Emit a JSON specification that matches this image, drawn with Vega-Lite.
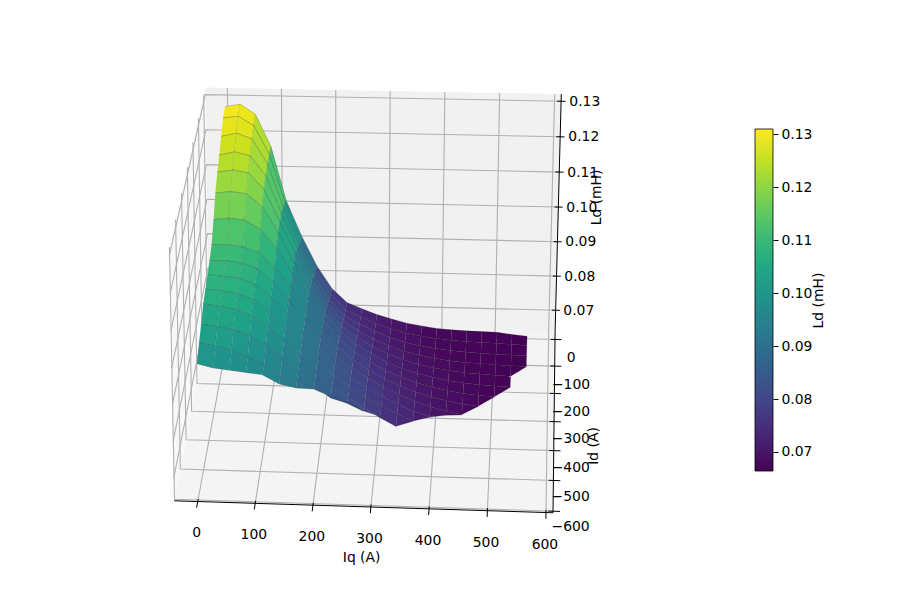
{"$schema":"https://vega.github.io/schema/vega-lite/v6.json","width":900,"height":600,"padding":0,"autosize":{"type":"none"},"background":"white","config":{"view":{"stroke":null},"text":{"font":"DejaVu Sans"},"axis":{"labelFont":"DejaVu Sans","titleFont":"DejaVu Sans"}},
"data":{"values":[
{"t":"p","p":"back","s":0,"Iq":-41,"Id":30,"Ld":0.0637},{"t":"p","p":"back","s":1,"Iq":612,"Id":30,"Ld":0.0637},{"t":"p","p":"back","s":2,"Iq":612,"Id":30,"Ld":0.132},{"t":"p","p":"back","s":3,"Iq":-41,"Id":30,"Ld":0.132},
{"t":"p","p":"left","s":0,"Iq":-41,"Id":30,"Ld":0.0637},{"t":"p","p":"left","s":1,"Iq":-41,"Id":-605,"Ld":0.0637},{"t":"p","p":"left","s":2,"Iq":-41,"Id":-605,"Ld":0.132},{"t":"p","p":"left","s":3,"Iq":-41,"Id":30,"Ld":0.132},
{"t":"p","p":"floor","s":0,"Iq":-41,"Id":30,"Ld":0.0637},{"t":"p","p":"floor","s":1,"Iq":612,"Id":30,"Ld":0.0637},{"t":"p","p":"floor","s":2,"Iq":612,"Id":-605,"Ld":0.0637},{"t":"p","p":"floor","s":3,"Iq":-41,"Id":-605,"Ld":0.0637},
{"t":"g","p":"q0","s":0,"Iq":0,"Id":-605,"Ld":0.0637},{"t":"g","p":"q0","s":1,"Iq":0,"Id":30,"Ld":0.0637},{"t":"g","p":"q0","s":2,"Iq":0,"Id":30,"Ld":0.132},
{"t":"g","p":"q1","s":0,"Iq":100,"Id":-605,"Ld":0.0637},{"t":"g","p":"q1","s":1,"Iq":100,"Id":30,"Ld":0.0637},{"t":"g","p":"q1","s":2,"Iq":100,"Id":30,"Ld":0.132},
{"t":"g","p":"q2","s":0,"Iq":200,"Id":-605,"Ld":0.0637},{"t":"g","p":"q2","s":1,"Iq":200,"Id":30,"Ld":0.0637},{"t":"g","p":"q2","s":2,"Iq":200,"Id":30,"Ld":0.132},
{"t":"g","p":"q3","s":0,"Iq":300,"Id":-605,"Ld":0.0637},{"t":"g","p":"q3","s":1,"Iq":300,"Id":30,"Ld":0.0637},{"t":"g","p":"q3","s":2,"Iq":300,"Id":30,"Ld":0.132},
{"t":"g","p":"q4","s":0,"Iq":400,"Id":-605,"Ld":0.0637},{"t":"g","p":"q4","s":1,"Iq":400,"Id":30,"Ld":0.0637},{"t":"g","p":"q4","s":2,"Iq":400,"Id":30,"Ld":0.132},
{"t":"g","p":"q5","s":0,"Iq":500,"Id":-605,"Ld":0.0637},{"t":"g","p":"q5","s":1,"Iq":500,"Id":30,"Ld":0.0637},{"t":"g","p":"q5","s":2,"Iq":500,"Id":30,"Ld":0.132},
{"t":"g","p":"q6","s":0,"Iq":600,"Id":-605,"Ld":0.0637},{"t":"g","p":"q6","s":1,"Iq":600,"Id":30,"Ld":0.0637},{"t":"g","p":"q6","s":2,"Iq":600,"Id":30,"Ld":0.132},
{"t":"g","p":"d0","s":0,"Iq":612,"Id":0,"Ld":0.0637},{"t":"g","p":"d0","s":1,"Iq":-41,"Id":0,"Ld":0.0637},{"t":"g","p":"d0","s":2,"Iq":-41,"Id":0,"Ld":0.132},
{"t":"g","p":"d1","s":0,"Iq":612,"Id":-100,"Ld":0.0637},{"t":"g","p":"d1","s":1,"Iq":-41,"Id":-100,"Ld":0.0637},{"t":"g","p":"d1","s":2,"Iq":-41,"Id":-100,"Ld":0.132},
{"t":"g","p":"d2","s":0,"Iq":612,"Id":-200,"Ld":0.0637},{"t":"g","p":"d2","s":1,"Iq":-41,"Id":-200,"Ld":0.0637},{"t":"g","p":"d2","s":2,"Iq":-41,"Id":-200,"Ld":0.132},
{"t":"g","p":"d3","s":0,"Iq":612,"Id":-300,"Ld":0.0637},{"t":"g","p":"d3","s":1,"Iq":-41,"Id":-300,"Ld":0.0637},{"t":"g","p":"d3","s":2,"Iq":-41,"Id":-300,"Ld":0.132},
{"t":"g","p":"d4","s":0,"Iq":612,"Id":-400,"Ld":0.0637},{"t":"g","p":"d4","s":1,"Iq":-41,"Id":-400,"Ld":0.0637},{"t":"g","p":"d4","s":2,"Iq":-41,"Id":-400,"Ld":0.132},
{"t":"g","p":"d5","s":0,"Iq":612,"Id":-500,"Ld":0.0637},{"t":"g","p":"d5","s":1,"Iq":-41,"Id":-500,"Ld":0.0637},{"t":"g","p":"d5","s":2,"Iq":-41,"Id":-500,"Ld":0.132},
{"t":"g","p":"d6","s":0,"Iq":612,"Id":-600,"Ld":0.0637},{"t":"g","p":"d6","s":1,"Iq":-41,"Id":-600,"Ld":0.0637},{"t":"g","p":"d6","s":2,"Iq":-41,"Id":-600,"Ld":0.132},
{"t":"g","p":"z7","s":0,"Iq":612,"Id":30,"Ld":0.07},{"t":"g","p":"z7","s":1,"Iq":-41,"Id":30,"Ld":0.07},{"t":"g","p":"z7","s":2,"Iq":-41,"Id":-605,"Ld":0.07},
{"t":"g","p":"z8","s":0,"Iq":612,"Id":30,"Ld":0.08},{"t":"g","p":"z8","s":1,"Iq":-41,"Id":30,"Ld":0.08},{"t":"g","p":"z8","s":2,"Iq":-41,"Id":-605,"Ld":0.08},
{"t":"g","p":"z9","s":0,"Iq":612,"Id":30,"Ld":0.09},{"t":"g","p":"z9","s":1,"Iq":-41,"Id":30,"Ld":0.09},{"t":"g","p":"z9","s":2,"Iq":-41,"Id":-605,"Ld":0.09},
{"t":"g","p":"z10","s":0,"Iq":612,"Id":30,"Ld":0.10},{"t":"g","p":"z10","s":1,"Iq":-41,"Id":30,"Ld":0.10},{"t":"g","p":"z10","s":2,"Iq":-41,"Id":-605,"Ld":0.10},
{"t":"g","p":"z11","s":0,"Iq":612,"Id":30,"Ld":0.11},{"t":"g","p":"z11","s":1,"Iq":-41,"Id":30,"Ld":0.11},{"t":"g","p":"z11","s":2,"Iq":-41,"Id":-605,"Ld":0.11},
{"t":"g","p":"z12","s":0,"Iq":612,"Id":30,"Ld":0.12},{"t":"g","p":"z12","s":1,"Iq":-41,"Id":30,"Ld":0.12},{"t":"g","p":"z12","s":2,"Iq":-41,"Id":-605,"Ld":0.12},
{"t":"g","p":"z13","s":0,"Iq":612,"Id":30,"Ld":0.13},{"t":"g","p":"z13","s":1,"Iq":-41,"Id":30,"Ld":0.13},{"t":"g","p":"z13","s":2,"Iq":-41,"Id":-605,"Ld":0.13},
{"t":"a","p":"x","s":0,"Iq":-41,"Id":-605,"Ld":0.0637},{"t":"a","p":"x","s":1,"Iq":612,"Id":-605,"Ld":0.0637},
{"t":"a","p":"y","s":0,"Iq":612,"Id":-605,"Ld":0.0637},{"t":"a","p":"y","s":1,"Iq":612,"Id":30,"Ld":0.0637},
{"t":"a","p":"z","s":0,"Iq":612,"Id":30,"Ld":0.0637},{"t":"a","p":"z","s":1,"Iq":612,"Id":30,"Ld":0.132},
{"t":"a","p":"tx0","s":0,"Iq":0,"Id":-597,"Ld":0.0637},{"t":"a","p":"tx0","s":1,"Iq":0,"Id":-625,"Ld":0.0637},
{"t":"a","p":"tx1","s":0,"Iq":100,"Id":-597,"Ld":0.0637},{"t":"a","p":"tx1","s":1,"Iq":100,"Id":-625,"Ld":0.0637},
{"t":"a","p":"tx2","s":0,"Iq":200,"Id":-597,"Ld":0.0637},{"t":"a","p":"tx2","s":1,"Iq":200,"Id":-625,"Ld":0.0637},
{"t":"a","p":"tx3","s":0,"Iq":300,"Id":-597,"Ld":0.0637},{"t":"a","p":"tx3","s":1,"Iq":300,"Id":-625,"Ld":0.0637},
{"t":"a","p":"tx4","s":0,"Iq":400,"Id":-597,"Ld":0.0637},{"t":"a","p":"tx4","s":1,"Iq":400,"Id":-625,"Ld":0.0637},
{"t":"a","p":"tx5","s":0,"Iq":500,"Id":-597,"Ld":0.0637},{"t":"a","p":"tx5","s":1,"Iq":500,"Id":-625,"Ld":0.0637},
{"t":"a","p":"tx6","s":0,"Iq":600,"Id":-597,"Ld":0.0637},{"t":"a","p":"tx6","s":1,"Iq":600,"Id":-625,"Ld":0.0637},
{"t":"a","p":"ty0","s":0,"Iq":604,"Id":0,"Ld":0.0637},{"t":"a","p":"ty0","s":1,"Iq":624,"Id":0,"Ld":0.0637},
{"t":"a","p":"ty1","s":0,"Iq":604,"Id":-100,"Ld":0.0637},{"t":"a","p":"ty1","s":1,"Iq":624,"Id":-100,"Ld":0.0637},
{"t":"a","p":"ty2","s":0,"Iq":604,"Id":-200,"Ld":0.0637},{"t":"a","p":"ty2","s":1,"Iq":624,"Id":-200,"Ld":0.0637},
{"t":"a","p":"ty3","s":0,"Iq":604,"Id":-300,"Ld":0.0637},{"t":"a","p":"ty3","s":1,"Iq":624,"Id":-300,"Ld":0.0637},
{"t":"a","p":"ty4","s":0,"Iq":604,"Id":-400,"Ld":0.0637},{"t":"a","p":"ty4","s":1,"Iq":624,"Id":-400,"Ld":0.0637},
{"t":"a","p":"ty5","s":0,"Iq":604,"Id":-500,"Ld":0.0637},{"t":"a","p":"ty5","s":1,"Iq":624,"Id":-500,"Ld":0.0637},
{"t":"a","p":"ty6","s":0,"Iq":604,"Id":-600,"Ld":0.0637},{"t":"a","p":"ty6","s":1,"Iq":624,"Id":-600,"Ld":0.0637},
{"t":"a","p":"tz7","s":0,"Iq":605,"Id":30,"Ld":0.07},{"t":"a","p":"tz7","s":1,"Iq":620,"Id":30,"Ld":0.07},
{"t":"a","p":"tz8","s":0,"Iq":605,"Id":30,"Ld":0.08},{"t":"a","p":"tz8","s":1,"Iq":620,"Id":30,"Ld":0.08},
{"t":"a","p":"tz9","s":0,"Iq":605,"Id":30,"Ld":0.09},{"t":"a","p":"tz9","s":1,"Iq":620,"Id":30,"Ld":0.09},
{"t":"a","p":"tz10","s":0,"Iq":605,"Id":30,"Ld":0.10},{"t":"a","p":"tz10","s":1,"Iq":620,"Id":30,"Ld":0.10},
{"t":"a","p":"tz11","s":0,"Iq":605,"Id":30,"Ld":0.11},{"t":"a","p":"tz11","s":1,"Iq":620,"Id":30,"Ld":0.11},
{"t":"a","p":"tz12","s":0,"Iq":605,"Id":30,"Ld":0.12},{"t":"a","p":"tz12","s":1,"Iq":620,"Id":30,"Ld":0.12},
{"t":"a","p":"tz13","s":0,"Iq":605,"Id":30,"Ld":0.13},{"t":"a","p":"tz13","s":1,"Iq":620,"Id":30,"Ld":0.13},
{"t":"l","label":"0","Iq":8,"Id":-706,"Ld":0.0637},{"t":"l","label":"100","Iq":106,"Id":-706,"Ld":0.0637},{"t":"l","label":"200","Iq":205,"Id":-706,"Ld":0.0637},{"t":"l","label":"300","Iq":303,"Id":-706,"Ld":0.0637},{"t":"l","label":"400","Iq":402,"Id":-706,"Ld":0.0637},{"t":"l","label":"500","Iq":500,"Id":-706,"Ld":0.0637},{"t":"l","label":"600","Iq":599,"Id":-706,"Ld":0.0637},
{"t":"l","label":"0","Iq":642,"Id":-68,"Ld":0.0637},{"t":"l","label":"−100","Iq":642,"Id":-169,"Ld":0.0637},{"t":"l","label":"−200","Iq":642,"Id":-265,"Ld":0.0637},{"t":"l","label":"−300","Iq":642,"Id":-359,"Ld":0.0637},{"t":"l","label":"−400","Iq":642,"Id":-456,"Ld":0.0637},{"t":"l","label":"−500","Iq":642,"Id":-554,"Ld":0.0637},{"t":"l","label":"−600","Iq":642,"Id":-649,"Ld":0.0637},
{"t":"l","label":"0.07","Iq":655,"Id":30,"Ld":0.07},{"t":"l","label":"0.08","Iq":655,"Id":30,"Ld":0.08},{"t":"l","label":"0.09","Iq":655,"Id":30,"Ld":0.09},{"t":"l","label":"0.10","Iq":655,"Id":30,"Ld":0.10},{"t":"l","label":"0.11","Iq":655,"Id":30,"Ld":0.11},{"t":"l","label":"0.12","Iq":655,"Id":30,"Ld":0.12},{"t":"l","label":"0.13","Iq":655,"Id":30,"Ld":0.13},
{"t":"l","label":"Iq (A)","Iq":293,"Id":-767,"Ld":0.0637},
{"t":"r","label":"Id (A)","Iq":683,"Id":-380,"Ld":0.0637},{"t":"r","label":"Ld (mH)","Iq":682,"Id":30,"Ld":0.103},
{"t":"c","cb":0.07},{"t":"c","cb":0.13},
{"Iq":0,"Id":-20,"Ld":0.13},{"Iq":28,"Id":-20,"Ld":0.1308},{"Iq":56,"Id":-20,"Ld":0.128},{"Iq":84,"Id":-20,"Ld":0.119},{"Iq":112,"Id":-20,"Ld":0.1035},{"Iq":140,"Id":-20,"Ld":0.0935},{"Iq":168,"Id":-20,"Ld":0.085},{"Iq":196,"Id":-20,"Ld":0.0785},{"Iq":224,"Id":-20,"Ld":0.0745},{"Iq":252,"Id":-20,"Ld":0.0728},{"Iq":280,"Id":-20,"Ld":0.0712},{"Iq":308,"Id":-20,"Ld":0.07},{"Iq":336,"Id":-20,"Ld":0.0689},{"Iq":364,"Id":-20,"Ld":0.0682},{"Iq":392,"Id":-20,"Ld":0.0676},{"Iq":420,"Id":-20,"Ld":0.0673},{"Iq":448,"Id":-20,"Ld":0.0671},{"Iq":476,"Id":-20,"Ld":0.067},{"Iq":504,"Id":-20,"Ld":0.0669},{"Iq":532,"Id":-20,"Ld":0.0664},{"Iq":560,"Id":-20,"Ld":0.066},
{"Iq":0,"Id":-60,"Ld":0.1295},{"Iq":28,"Id":-60,"Ld":0.13},{"Iq":56,"Id":-60,"Ld":0.1275},{"Iq":84,"Id":-60,"Ld":0.1195},{"Iq":112,"Id":-60,"Ld":0.106},{"Iq":140,"Id":-60,"Ld":0.095},{"Iq":168,"Id":-60,"Ld":0.0865},{"Iq":196,"Id":-60,"Ld":0.08},{"Iq":224,"Id":-60,"Ld":0.0755},{"Iq":252,"Id":-60,"Ld":0.0735},{"Iq":280,"Id":-60,"Ld":0.0717},{"Iq":308,"Id":-60,"Ld":0.0703},{"Iq":336,"Id":-60,"Ld":0.0691},{"Iq":364,"Id":-60,"Ld":0.0683},{"Iq":392,"Id":-60,"Ld":0.0677},{"Iq":420,"Id":-60,"Ld":0.0673},{"Iq":448,"Id":-60,"Ld":0.0671},{"Iq":476,"Id":-60,"Ld":0.0669},{"Iq":504,"Id":-60,"Ld":0.0668},{"Iq":532,"Id":-60,"Ld":0.0666},{"Iq":560,"Id":-60,"Ld":0.0664},
{"Iq":0,"Id":-100,"Ld":0.127},{"Iq":28,"Id":-100,"Ld":0.128},{"Iq":56,"Id":-100,"Ld":0.1265},{"Iq":84,"Id":-100,"Ld":0.1195},{"Iq":112,"Id":-100,"Ld":0.1075},{"Iq":140,"Id":-100,"Ld":0.0968},{"Iq":168,"Id":-100,"Ld":0.088},{"Iq":196,"Id":-100,"Ld":0.0815},{"Iq":224,"Id":-100,"Ld":0.0768},{"Iq":252,"Id":-100,"Ld":0.0745},{"Iq":280,"Id":-100,"Ld":0.0725},{"Iq":308,"Id":-100,"Ld":0.0708},{"Iq":336,"Id":-100,"Ld":0.0695},{"Iq":364,"Id":-100,"Ld":0.0686},{"Iq":392,"Id":-100,"Ld":0.0679},{"Iq":420,"Id":-100,"Ld":0.0674},{"Iq":448,"Id":-100,"Ld":0.0671},{"Iq":476,"Id":-100,"Ld":0.0669},{"Iq":504,"Id":-100,"Ld":0.0667},{"Iq":532,"Id":-100,"Ld":0.0666},{"Iq":560,"Id":-100,"Ld":0.0665},
{"Iq":0,"Id":-140,"Ld":0.1245},{"Iq":28,"Id":-140,"Ld":0.1255},{"Iq":56,"Id":-140,"Ld":0.1245},{"Iq":84,"Id":-140,"Ld":0.119},{"Iq":112,"Id":-140,"Ld":0.1085},{"Iq":140,"Id":-140,"Ld":0.0985},{"Iq":168,"Id":-140,"Ld":0.09},{"Iq":196,"Id":-140,"Ld":0.0832},{"Iq":224,"Id":-140,"Ld":0.0785},{"Iq":252,"Id":-140,"Ld":0.0755},{"Iq":280,"Id":-140,"Ld":0.0733},{"Iq":308,"Id":-140,"Ld":0.0715},{"Iq":336,"Id":-140,"Ld":0.07},{"Iq":364,"Id":-140,"Ld":0.069},{"Iq":392,"Id":-140,"Ld":0.0682},{"Iq":420,"Id":-140,"Ld":0.0676},{"Iq":448,"Id":-140,"Ld":0.0672},{"Iq":476,"Id":-140,"Ld":0.067},{"Iq":504,"Id":-140,"Ld":0.0668},{"Iq":532,"Id":-140,"Ld":0.0666},{"Iq":560,"Id":-140,"Ld":0.0665},
{"Iq":0,"Id":-180,"Ld":0.1225},{"Iq":28,"Id":-180,"Ld":0.1232},{"Iq":56,"Id":-180,"Ld":0.1225},{"Iq":84,"Id":-180,"Ld":0.118},{"Iq":112,"Id":-180,"Ld":0.109},{"Iq":140,"Id":-180,"Ld":0.1},{"Iq":168,"Id":-180,"Ld":0.0915},{"Iq":196,"Id":-180,"Ld":0.085},{"Iq":224,"Id":-180,"Ld":0.08},{"Iq":252,"Id":-180,"Ld":0.0768},{"Iq":280,"Id":-180,"Ld":0.0743},{"Iq":308,"Id":-180,"Ld":0.0723},{"Iq":336,"Id":-180,"Ld":0.0707},{"Iq":364,"Id":-180,"Ld":0.0695},{"Iq":392,"Id":-180,"Ld":0.0686},{"Iq":420,"Id":-180,"Ld":0.0679},{"Iq":448,"Id":-180,"Ld":0.0674},{"Iq":476,"Id":-180,"Ld":0.0671},{"Iq":504,"Id":-180,"Ld":0.0669},{"Iq":532,"Id":-180,"Ld":0.0667},
{"Iq":0,"Id":-220,"Ld":0.1195},{"Iq":28,"Id":-220,"Ld":0.12},{"Iq":56,"Id":-220,"Ld":0.1195},{"Iq":84,"Id":-220,"Ld":0.116},{"Iq":112,"Id":-220,"Ld":0.109},{"Iq":140,"Id":-220,"Ld":0.1005},{"Iq":168,"Id":-220,"Ld":0.093},{"Iq":196,"Id":-220,"Ld":0.0865},{"Iq":224,"Id":-220,"Ld":0.0815},{"Iq":252,"Id":-220,"Ld":0.078},{"Iq":280,"Id":-220,"Ld":0.0753},{"Iq":308,"Id":-220,"Ld":0.073},{"Iq":336,"Id":-220,"Ld":0.0713},{"Iq":364,"Id":-220,"Ld":0.07},{"Iq":392,"Id":-220,"Ld":0.069},{"Iq":420,"Id":-220,"Ld":0.0682},{"Iq":448,"Id":-220,"Ld":0.0676},{"Iq":476,"Id":-220,"Ld":0.0672},{"Iq":504,"Id":-220,"Ld":0.067},{"Iq":532,"Id":-220,"Ld":0.0668},
{"Iq":0,"Id":-260,"Ld":0.115},{"Iq":28,"Id":-260,"Ld":0.1155},{"Iq":56,"Id":-260,"Ld":0.115},{"Iq":84,"Id":-260,"Ld":0.1125},{"Iq":112,"Id":-260,"Ld":0.1075},{"Iq":140,"Id":-260,"Ld":0.1005},{"Iq":168,"Id":-260,"Ld":0.0935},{"Iq":196,"Id":-260,"Ld":0.0875},{"Iq":224,"Id":-260,"Ld":0.0825},{"Iq":252,"Id":-260,"Ld":0.079},{"Iq":280,"Id":-260,"Ld":0.0762},{"Iq":308,"Id":-260,"Ld":0.0738},{"Iq":336,"Id":-260,"Ld":0.072},{"Iq":364,"Id":-260,"Ld":0.0705},{"Iq":392,"Id":-260,"Ld":0.0694},{"Iq":420,"Id":-260,"Ld":0.0685},{"Iq":448,"Id":-260,"Ld":0.0678},{"Iq":476,"Id":-260,"Ld":0.0674},{"Iq":504,"Id":-260,"Ld":0.0671},
{"Iq":0,"Id":-300,"Ld":0.111},{"Iq":28,"Id":-300,"Ld":0.111},{"Iq":56,"Id":-300,"Ld":0.1105},{"Iq":84,"Id":-300,"Ld":0.109},{"Iq":112,"Id":-300,"Ld":0.105},{"Iq":140,"Id":-300,"Ld":0.0995},{"Iq":168,"Id":-300,"Ld":0.0935},{"Iq":196,"Id":-300,"Ld":0.088},{"Iq":224,"Id":-300,"Ld":0.0832},{"Iq":252,"Id":-300,"Ld":0.0798},{"Iq":280,"Id":-300,"Ld":0.077},{"Iq":308,"Id":-300,"Ld":0.0746},{"Iq":336,"Id":-300,"Ld":0.0726},{"Iq":364,"Id":-300,"Ld":0.071},{"Iq":392,"Id":-300,"Ld":0.0698},{"Iq":420,"Id":-300,"Ld":0.0688},{"Iq":448,"Id":-300,"Ld":0.068},{"Iq":476,"Id":-300,"Ld":0.0675},
{"Iq":0,"Id":-340,"Ld":0.1095},{"Iq":28,"Id":-340,"Ld":0.1095},{"Iq":56,"Id":-340,"Ld":0.109},{"Iq":84,"Id":-340,"Ld":0.1075},{"Iq":112,"Id":-340,"Ld":0.104},{"Iq":140,"Id":-340,"Ld":0.099},{"Iq":168,"Id":-340,"Ld":0.0935},{"Iq":196,"Id":-340,"Ld":0.0885},{"Iq":224,"Id":-340,"Ld":0.084},{"Iq":252,"Id":-340,"Ld":0.0805},{"Iq":280,"Id":-340,"Ld":0.0778},{"Iq":308,"Id":-340,"Ld":0.0753},{"Iq":336,"Id":-340,"Ld":0.0733},{"Iq":364,"Id":-340,"Ld":0.0716},{"Iq":392,"Id":-340,"Ld":0.0702},{"Iq":420,"Id":-340,"Ld":0.069},{"Iq":448,"Id":-340,"Ld":0.0682},
{"Iq":0,"Id":-380,"Ld":0.1085},{"Iq":28,"Id":-380,"Ld":0.1082},{"Iq":56,"Id":-380,"Ld":0.1078},{"Iq":84,"Id":-380,"Ld":0.1062},{"Iq":112,"Id":-380,"Ld":0.103},{"Iq":140,"Id":-380,"Ld":0.0985},{"Iq":168,"Id":-380,"Ld":0.0935},{"Iq":196,"Id":-380,"Ld":0.0888},{"Iq":224,"Id":-380,"Ld":0.0845},{"Iq":252,"Id":-380,"Ld":0.081},{"Iq":280,"Id":-380,"Ld":0.0783},{"Iq":308,"Id":-380,"Ld":0.076},{"Iq":336,"Id":-380,"Ld":0.0738},{"Iq":364,"Id":-380,"Ld":0.072},{"Iq":392,"Id":-380,"Ld":0.0705},
{"Iq":0,"Id":-420,"Ld":0.1075},{"Iq":28,"Id":-420,"Ld":0.1072},{"Iq":56,"Id":-420,"Ld":0.1065},{"Iq":84,"Id":-420,"Ld":0.105},{"Iq":112,"Id":-420,"Ld":0.102},{"Iq":140,"Id":-420,"Ld":0.0978},{"Iq":168,"Id":-420,"Ld":0.0932},{"Iq":196,"Id":-420,"Ld":0.0888},{"Iq":224,"Id":-420,"Ld":0.0848},{"Iq":252,"Id":-420,"Ld":0.0815},{"Iq":280,"Id":-420,"Ld":0.0788},{"Iq":308,"Id":-420,"Ld":0.0765},{"Iq":336,"Id":-420,"Ld":0.0745},{"Iq":364,"Id":-420,"Ld":0.0725},
{"Iq":0,"Id":-460,"Ld":0.1065},{"Iq":28,"Id":-460,"Ld":0.106},{"Iq":56,"Id":-460,"Ld":0.1052},{"Iq":84,"Id":-460,"Ld":0.1036},{"Iq":112,"Id":-460,"Ld":0.1008},{"Iq":140,"Id":-460,"Ld":0.097},{"Iq":168,"Id":-460,"Ld":0.0928},{"Iq":196,"Id":-460,"Ld":0.0888},{"Iq":224,"Id":-460,"Ld":0.085},{"Iq":252,"Id":-460,"Ld":0.0818},{"Iq":280,"Id":-460,"Ld":0.0792},{"Iq":308,"Id":-460,"Ld":0.0765},{"Iq":336,"Id":-460,"Ld":0.0742},
{"Iq":0,"Id":-500,"Ld":0.104},{"Iq":28,"Id":-500,"Ld":0.1035},{"Iq":56,"Id":-500,"Ld":0.1028},{"Iq":84,"Id":-500,"Ld":0.1012},{"Iq":112,"Id":-500,"Ld":0.0988},{"Iq":140,"Id":-500,"Ld":0.0955},{"Iq":168,"Id":-500,"Ld":0.092},{"Iq":196,"Id":-500,"Ld":0.0882},{"Iq":224,"Id":-500,"Ld":0.0848},{"Iq":252,"Id":-500,"Ld":0.0835},{"Iq":280,"Id":-500,"Ld":0.0815},{"Iq":308,"Id":-480,"Ld":0.0785},{"Iq":336,"Id":-461,"Ld":0.0742},
{"Iq":0,"Id":-540,"Ld":0.102},{"Iq":28,"Id":-540,"Ld":0.1012},{"Iq":56,"Id":-540,"Ld":0.1002},{"Iq":84,"Id":-540,"Ld":0.0985},{"Iq":112,"Id":-540,"Ld":0.0965},{"Iq":140,"Id":-540,"Ld":0.0942},{"Iq":168,"Id":-540,"Ld":0.0922},{"Iq":196,"Id":-540,"Ld":0.0904},{"Iq":224,"Id":-527,"Ld":0.0875},{"Iq":252,"Id":-513,"Ld":0.085},{"Iq":280,"Id":-501,"Ld":0.0815},
{"Iq":0,"Id":-580,"Ld":0.0995},{"Iq":28,"Id":-580,"Ld":0.0985},{"Iq":56,"Id":-580,"Ld":0.098},{"Iq":84,"Id":-580,"Ld":0.0975},{"Iq":112,"Id":-580,"Ld":0.097},{"Iq":140,"Id":-566,"Ld":0.0935},{"Iq":168,"Id":-553,"Ld":0.0915},{"Iq":196,"Id":-541,"Ld":0.0904},
{"Iq":364,"Id":-421,"Ld":0.0725},{"Iq":392,"Id":-381,"Ld":0.0705},{"Iq":420,"Id":-360,"Ld":0.0695},{"Iq":448,"Id":-341,"Ld":0.0682},{"Iq":476,"Id":-301,"Ld":0.0675},{"Iq":504,"Id":-261,"Ld":0.0671},{"Iq":532,"Id":-221,"Ld":0.0668},{"Iq":560,"Id":-141,"Ld":0.0665}
]},
"transform":[
{"calculate":"datum.Iq/600","as":"q"},{"calculate":"-datum.Id/600","as":"d"},{"calculate":"(datum.Ld-0.07)/0.06","as":"L"},
{"calculate":"1-0.01*datum.q-0.082*datum.d-0.0243*datum.L","as":"w"},
{"calculate":"(228.7+314.9*datum.q-47.3*datum.d-8.2*datum.L)/datum.w","as":"sx"},
{"calculate":"(309.7+5*datum.q+128.5*datum.d-210.2*datum.L)/datum.w","as":"sy"}
],
"encoding":{
"x":{"field":"sx","type":"quantitative","scale":{"domain":[0,900],"nice":false,"zero":false},"axis":null},
"y":{"field":"sy","type":"quantitative","scale":{"domain":[600,0],"nice":false,"zero":false},"axis":null}
},
"layer":[
{"transform":[{"filter":"datum.t=='p'"}],"mark":{"type":"line","strokeWidth":0},"encoding":{"detail":{"field":"p"},"order":{"field":"s"},"fill":{"condition":[{"test":"datum.p=='back'","value":"#f1f1f1"},{"test":"datum.p=='left'","value":"#f8f8f8"}],"value":"#f4f4f4"}}},
{"transform":[{"filter":"datum.t=='g'"}],"mark":{"type":"line","stroke":"#b0b0b0","strokeWidth":1.1},"encoding":{"detail":{"field":"p"},"order":{"field":"s"}}},
{"transform":[{"filter":"!datum.t"},
{"calculate":"datum.Iq/28","as":"i"},{"calculate":"ceil((-datum.Id-20)/40)","as":"j"},
{"calculate":"[0,1,2,3]","as":"c"},{"flatten":["c"]},
{"calculate":"(datum.i-((datum.c==1||datum.c==2)?1:0))*100+datum.j-(datum.c>=2?1:0)","as":"cell"},
{"joinaggregate":[{"op":"count","as":"n"},{"op":"mean","field":"Ld","as":"cellLd"}],"groupby":["cell"]},
{"filter":"datum.n==4"}],
"mark":{"type":"line","stroke":"#222222","strokeWidth":0.3,"strokeOpacity":0.7},
"encoding":{"detail":{"field":"cell"},"order":{"field":"c"},
"fill":{"field":"cellLd","type":"quantitative","scale":{"scheme":"viridis","domain":[0.0664,0.131],"clamp":true},
"legend":{"title":null,"orient":"none","legendX":755,"legendY":129,"gradientLength":342,"gradientThickness":18,"labelExpr":"''","gradientStrokeColor":"#000000","gradientStrokeWidth":0.8,"tickCount":2}}}},
{"transform":[{"filter":"datum.t=='a'"}],"mark":{"type":"line","stroke":"#000000","strokeWidth":1},"encoding":{"detail":{"field":"p"},"order":{"field":"s"}}},
{"transform":[{"filter":"datum.t=='l'"}],"mark":{"type":"text","fontSize":13.9,"color":"#000000","font":"DejaVu Sans"},"encoding":{"text":{"field":"label"}}},
{"transform":[{"filter":"datum.t=='r'"}],"mark":{"type":"text","fontSize":13.9,"angle":270,"color":"#000000","font":"DejaVu Sans"},"encoding":{"text":{"field":"label"}}},
{"transform":[{"filter":"datum.t=='c'"}],"mark":{"type":"point","opacity":0},"encoding":{"x":{"value":773},
"y":{"field":"cb","type":"quantitative","title":"Ld (mH)","scale":{"domain":[0.0664,0.131],"range":[471,129],"nice":false,"zero":false},
"axis":{"orient":"right","offset":-127,"values":[0.07,0.08,0.09,0.10,0.11,0.12,0.13],"format":".2f","grid":false,"domain":false,"tickColor":"#000000","tickSize":5,"labelColor":"#000000","labelFontSize":13.9,"labelPadding":3,"titleFontSize":13.9,"titleFontWeight":"normal","titleColor":"#000000","titleAngle":270,"titlePadding":14}}}}
],
"resolve":{"scale":{"y":"independent"},"axis":{"y":"independent"}}
}
